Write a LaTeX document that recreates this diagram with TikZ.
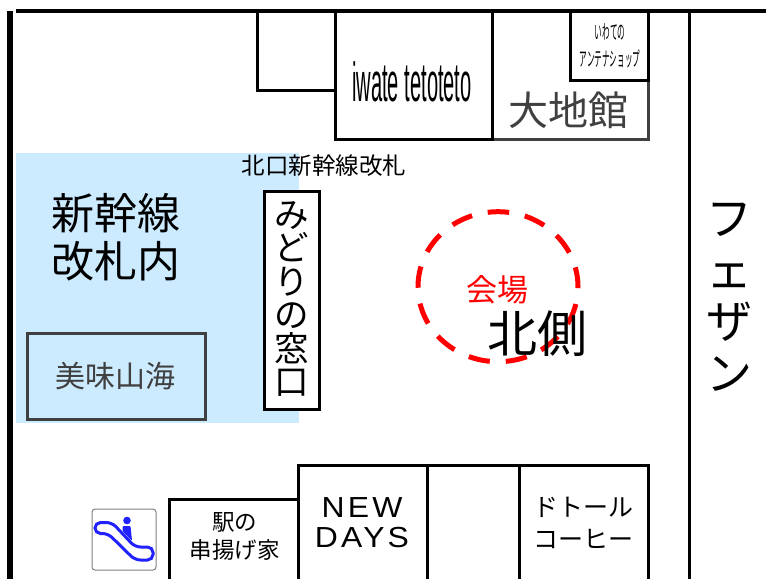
\documentclass[tikz,border=0pt]{standalone}
\usepackage{fontspec}
\usepackage{graphicx}
\setmainfont{Noto Sans CJK JP}
\newfontfamily\latinfont{Liberation Sans}
\definecolor{gatecolor}{HTML}{CCEBFF}
\definecolor{shopgray}{HTML}{404040}
\definecolor{iconblue}{HTML}{2222FF}
\tikzset{
    wall/.style={draw=black, line width=3pt},
    grayshop/.style={draw=shopgray, line width=3pt},
    txt/.style={inner sep=0pt, align=center},
}
\newcommand{\fs}[2]{\fontsize{#1}{#2}\selectfont}
\begin{document}
\begin{tikzpicture}[x=1pt,y=-1pt]
    \useasboundingbox (0,0) rectangle (766,579);
    % gate area
    \fill[gatecolor] (16,153) rectangle (299,423);
    % outer walls
    \draw[line width=6pt] (10,11) -- (10,579);
    \draw[line width=4pt] (16,11) -- (766,11);
    \draw[wall] (689,11) -- (689,579);
    % upper shops
    \draw[grayshop] (492,80) -- (492,139) -- (648,139) -- (648,80);
    \draw[wall] (257,12) -- (257,90) -- (335,90);
    \draw[wall] (335,12) -- (335,139) -- (492,139) -- (492,12);
    \draw[wall] (570,12) -- (570,80) -- (648,80) -- (648,12);
    % left side shops
    \draw[grayshop] (27,333) rectangle (205,419);
    \draw[wall, fill=white] (264,191) rectangle (319,409);
    % lower shops
    \draw[wall] (169,579) -- (169,499) -- (298,499) -- (298,579);
    \draw[wall] (298,499) -- (298,465) -- (648,465) -- (648,579);
    \draw[wall] (427,465) -- (427,579);
    \draw[wall] (519,465) -- (519,579);
    % escalator
    \draw[draw=gray, line width=1pt, rounded corners=3pt] (92,509) rectangle (156,570);
    \draw[iconblue, line width=3pt, rounded corners=5.5pt] (95,522.5) -- (112,522.5) -- (135,547) -- (153,547) -- (153,560) -- (135,560) -- (108,533.5) -- (95,533.5) -- cycle;
    \fill[iconblue] (127,520.5) circle [radius=3.8];
    \fill[iconblue, rounded corners=1pt] (122.5,526) -- (130.5,526) -- (132,541) -- (122.5,531) -- cycle;
    % venue
    \draw[red, line width=5pt, dash pattern=on 21.5pt off 16pt, dash phase=20pt] (498,286.7) ellipse [x radius=80, y radius=75];
    % labels
    \node[txt, font=\fs{23.5}{28}] (north) at (324,166) {北口新幹線改札};
    \node[txt, font=\fs{43}{48}] (inside) at (116,237) {新幹線\\改札内};
    \node[txt, font=\fs{30}{36}, text=shopgray] (bimi) at (115,376) {美味山海};
    \node[txt, font=\fs{34.5}{33.5}] (midori) at (291.5,299) {み\\ど\\り\\の\\窓\\口};
    \node[txt, font=\fs{31}{36}, text=red] (venue) at (497,290) {会場};
    \node[txt, font=\fs{50}{60}] (kita) at (537,334) {北側};
    \node[txt, font=\fs{46}{51.5}] (fezan) at (729,297) {フ\\ェ\\ザ\\ン};
    \node[txt, font=\fs{40}{48}, text=shopgray] (daichi) at (568,110) {大地館};
    \node[txt, font=\fs{55}{60}\latinfont] (iwate) at (412,82) {\scalebox{.365}[1]{iwate tetoteto}};
    \node[txt, font=\fs{20}{27}] (antenna) at (610,46) {\scalebox{.38}[1]{いわての}\\\scalebox{.38}[1]{アンテナショップ}};
    \node[txt, font=\fs{22.5}{28}] (kushi) at (234.5,536) {駅の\\串揚げ家};
    \node[txt, font=\fs{29}{30}\latinfont\addfontfeature{LetterSpace=10}] (newdays) at (362,523) {\scalebox{1.1}[1]{NEW}\\\scalebox{1.1}[1]{DAYS}};
    \node[txt, font=\fs{25}{32}] (doutor) at (583,523) {ドトール\\コーヒー};
\end{tikzpicture}
\end{document}
